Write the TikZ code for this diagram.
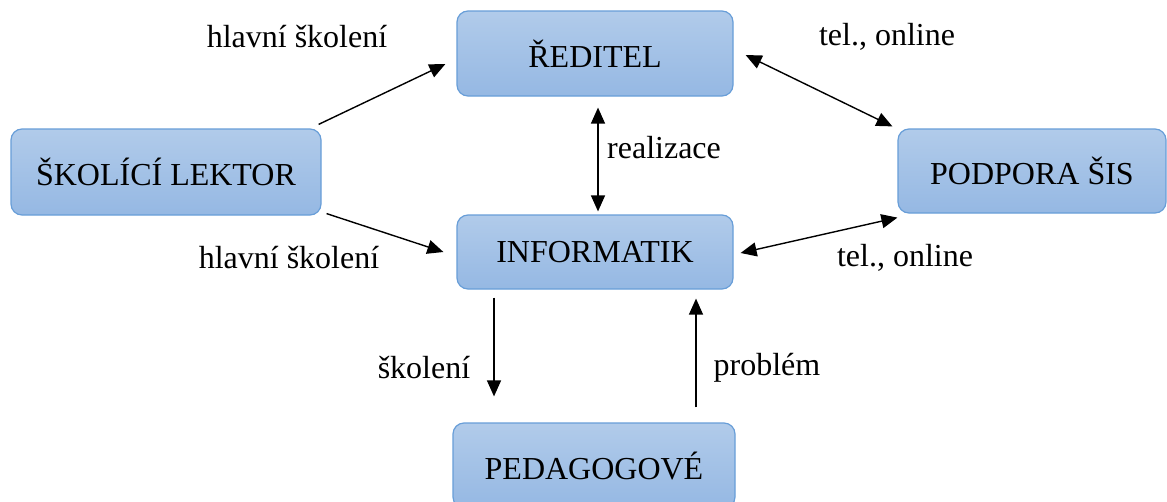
\documentclass[tikz,border=0pt]{standalone}
\usepackage{fontspec}
\setmainfont{Liberation Serif}
\usetikzlibrary{arrows.meta,calc}
\definecolor{boxtop}{RGB}{177,203,234}
\definecolor{boxbot}{RGB}{149,184,227}
\definecolor{boxline}{RGB}{104,158,216}
\tikzset{
  box/.style={rounded corners=11pt, draw=boxline, line width=1.2pt, top color=boxtop, bottom color=boxbot, inner sep=0pt, font=\fontsize{32}{38}\selectfont},
  lbl/.style={inner sep=0pt, font=\fontsize{32}{38}\selectfont},
  conn/.style={line width=1.4pt, -{Triangle[length=16pt,width=14pt]}},
  dconn/.style={line width=1.4pt, {Triangle[length=16pt,width=14pt]}-{Triangle[length=16pt,width=14pt]}}
}
\begin{document}
\begin{tikzpicture}[x=1pt,y=-1pt]
\useasboundingbox (0,0) rectangle (1167,501);
\fill[white] (0,0) rectangle (1167,501);
\node[box, minimum width=276pt, minimum height=85pt] (red) at (595,53.5) {ŘEDITEL};
\node[box, minimum width=310pt, minimum height=86pt] (lek) at (166,172) {ŠKOLÍCÍ LEKTOR};
\node[box, minimum width=276pt, minimum height=74pt] (inf) at (595,252) {INFORMATIK};
\node[box, minimum width=268pt, minimum height=84pt] (pod) at (1032,171) {PODPORA ŠIS};
\node[box, minimum width=282pt, minimum height=85pt] (ped) at (594,465.5) {PEDAGOGOVÉ};

\draw[conn] ([shift={(-3,-4)}]lek.north east) -- ([shift={(-11,10.5)}]red.west);
\draw[conn] ([shift={(5,-2)}]lek.south east) -- ([shift={(-13,0)}]inf.west);
\draw[dconn] ([shift={(3,11)}]red.south) -- ([shift={(3,-3)}]inf.north);
\draw[dconn] ([shift={(12,1.5)}]red.east) -- ([shift={(-5,-2)}]pod.north west);
\draw[dconn] ([shift={(7,1)}]inf.east) -- ([shift={(0,4)}]pod.south west);
\draw[conn] ([shift={(-101,8)}]inf.south) -- ([shift={(-100,-26)}]ped.north);
\draw[conn] ([shift={(102,-15)}]ped.north) -- ([shift={(101,9)}]inf.south);

\node[lbl] (l1) at (297,37) {hlavní školení};
\node[lbl] (l2) at (289,258) {hlavní školení};
\node[lbl] (l3) at (887,37) {tel., online};
\node[lbl] (l4) at (905,258) {tel., online};
\node[lbl, anchor=west] (l5) at (607,148) {realizace};
\node[lbl] (l6) at (424,368) {školení};
\node[lbl] (l7) at (767,368) {problém};
\end{tikzpicture}
\end{document}
